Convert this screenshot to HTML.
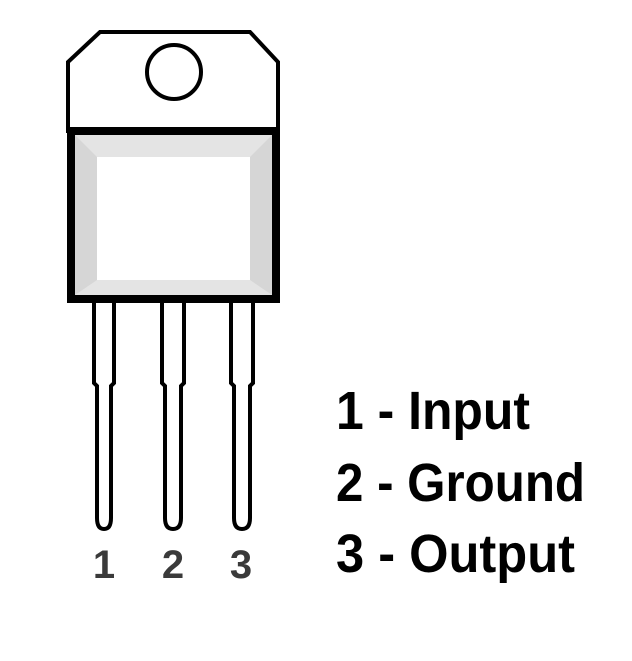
<!DOCTYPE html>
<html><head><meta charset="utf-8"><style>html,body{margin:0;padding:0;background:#fff}svg{display:block}</style></head>
<body>
<svg width="632" height="661" viewBox="0 0 632 661" xmlns="http://www.w3.org/2000/svg">
<rect width="632" height="661" fill="#fff"/>
<path d="M100,32 L250,32 L278,62 L278,131 L68,131 L68,62 Z" fill="#fff" stroke="#000" stroke-width="4"/>
<circle cx="174" cy="72" r="27" fill="#fff" stroke="#000" stroke-width="4"/>
<rect x="67" y="127" width="213" height="176" fill="#000"/>
<rect x="75" y="135" width="197" height="160" fill="#e4e4e4"/>
<polygon points="75,135 97,157 97,280 75,295" fill="#d6d6d6"/>
<polygon points="272,135 250,157 250,280 272,295" fill="#d6d6d6"/>
<rect x="97" y="157" width="153" height="123" fill="#fff"/>
<g fill="#fff" stroke="#000" stroke-width="4">
<path d="M94,303 L94,383 L97,386 L97,518 Q97,529 104,529 Q111,529 111,518 L111,386 L114,383 L114,303"/>
<path d="M162,303 L162,383 L165,386 L165,518 Q165,529 173,529 Q181,529 181,518 L181,386 L184,383 L184,303"/>
<path d="M231,303 L231,383 L234,386 L234,518 Q234,529 242,529 Q250,529 250,518 L250,386 L253,383 L253,303"/>
</g>
<g font-family="Liberation Sans, sans-serif" font-weight="bold" font-size="40" fill="#3a3a3a" text-anchor="middle">
<text x="104" y="578">1</text>
<text x="173" y="578">2</text>
<text x="241" y="578">3</text>
</g>
<g font-family="Liberation Sans, sans-serif" font-weight="bold" font-size="54" fill="#000">
<text x="336" y="429" textLength="194" lengthAdjust="spacingAndGlyphs">1 - Input</text>
<text x="336" y="501" textLength="249" lengthAdjust="spacingAndGlyphs">2 - Ground</text>
<text x="336" y="572" textLength="239" lengthAdjust="spacingAndGlyphs">3 - Output</text>
</g>
</svg>
</body></html>
